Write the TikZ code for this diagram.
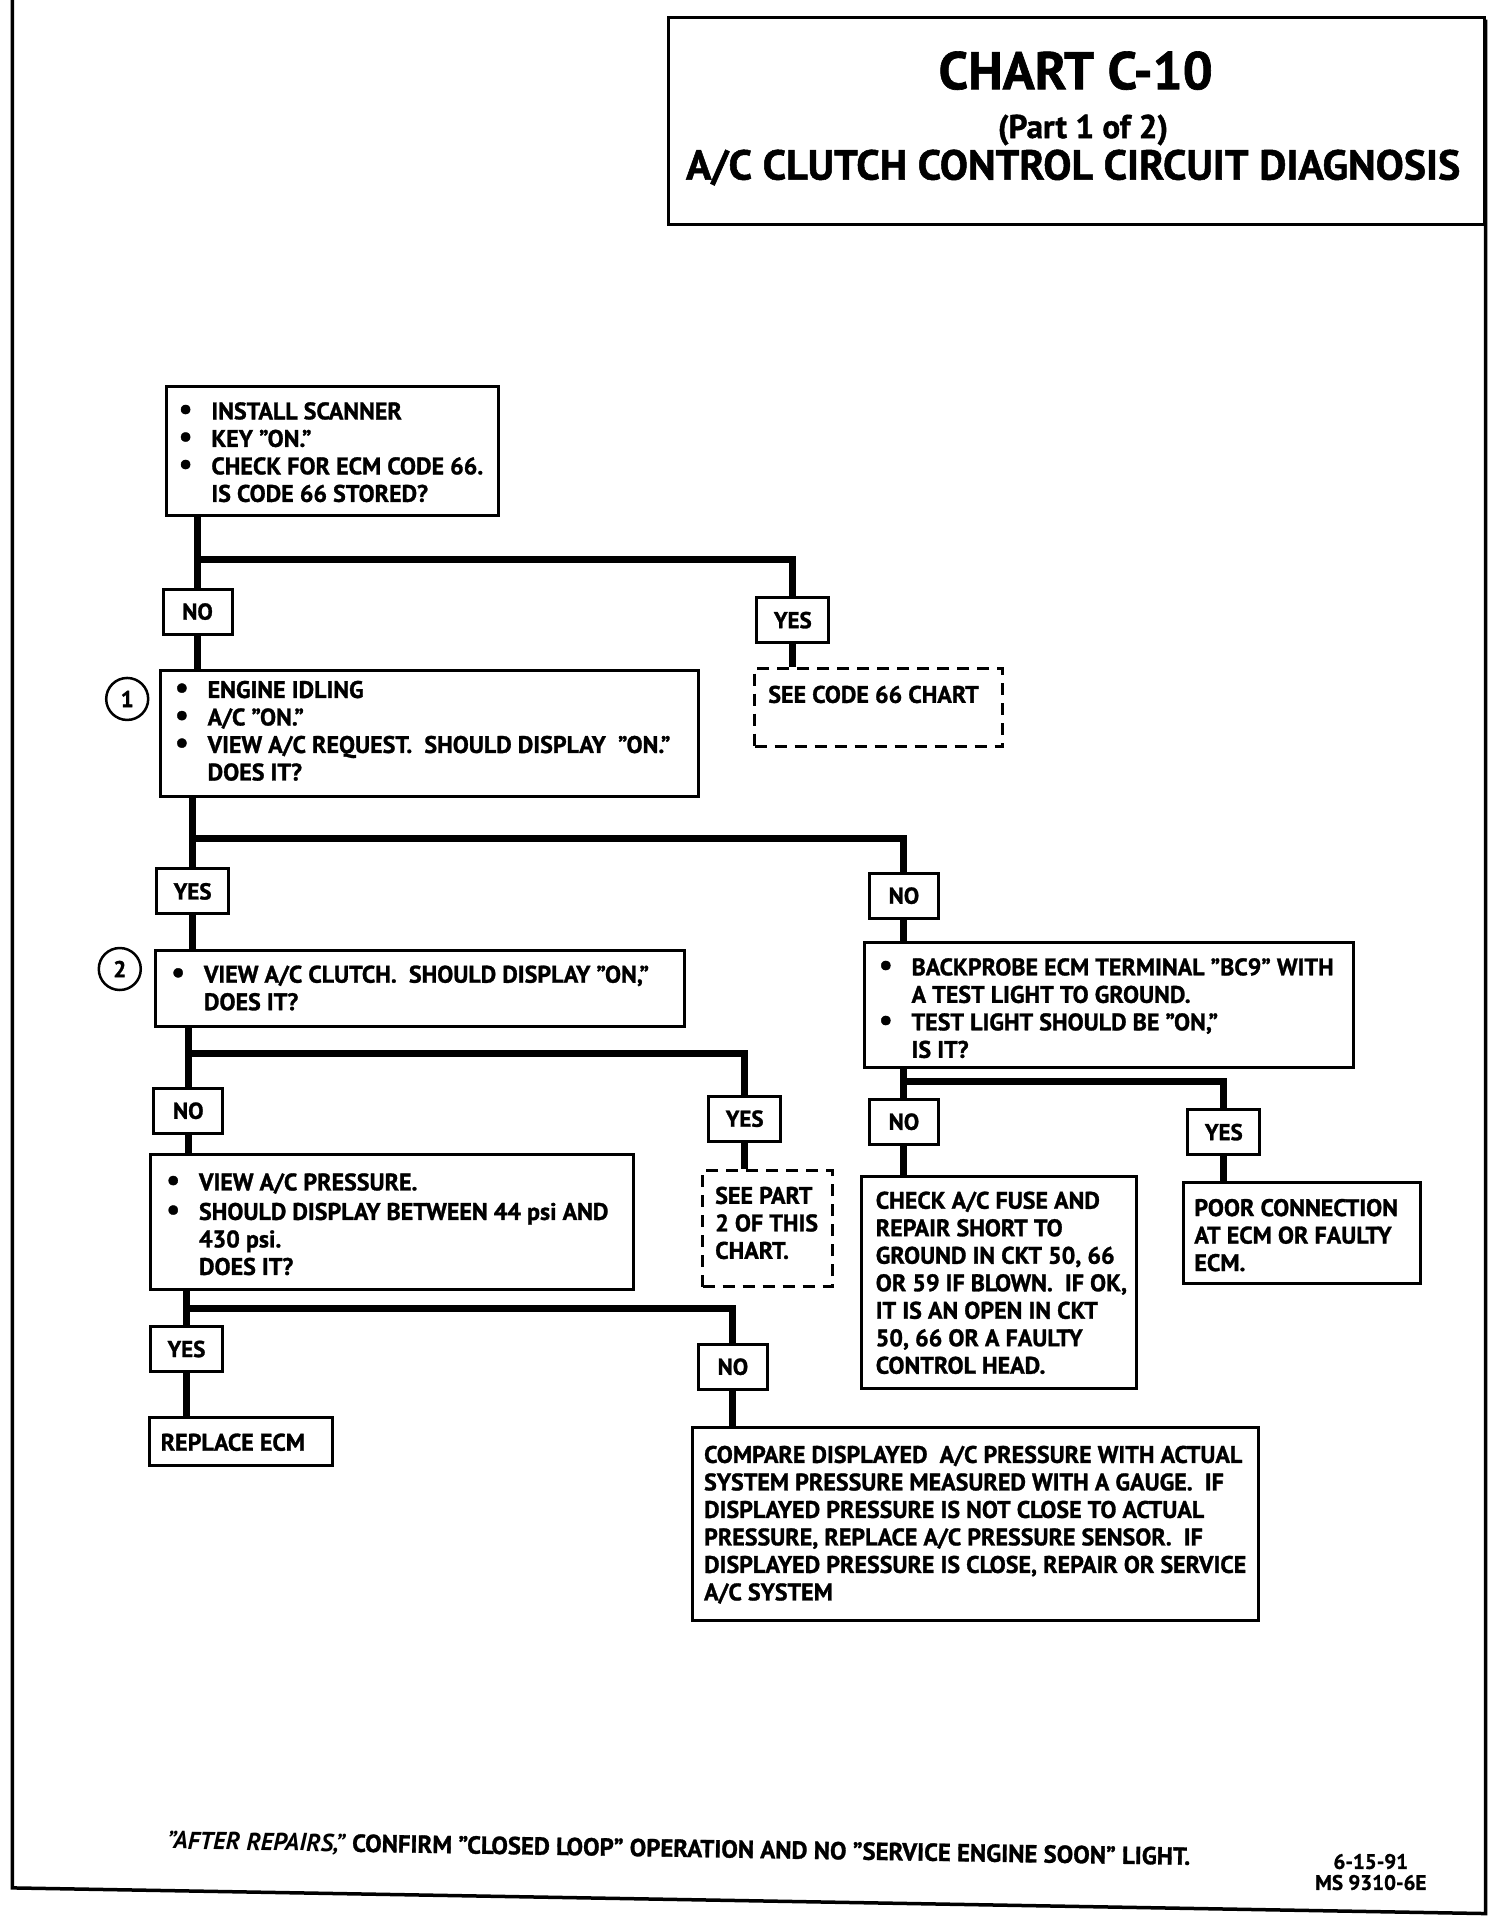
\documentclass[tikz,border=0pt]{standalone}
\usepackage{fontspec}
\setmainfont{PT Sans}[BoldFeatures={FakeBold=1.2}]
\usetikzlibrary{fit}
\newcommand\bl{\llap{\raisebox{0.5pt}{\fontsize{30}{0}\selectfont\textbullet}\hspace{19pt}}}
\newcommand\boxfont{\fontsize{24}{27.5}\selectfont\bfseries}
\newcommand\lblfont{\fontsize{23}{23}\selectfont\bfseries}
\begin{document}
\begin{tikzpicture}[x=1.235pt, y=-1.222pt,
  box/.style={draw, line width=3pt, fill=white, inner sep=0pt},
  dbox/.style={draw, line width=3pt, dash pattern=on 12pt off 8pt, inner sep=0pt},
  lbl/.style={draw, line width=3pt, fill=white, inner sep=0pt, minimum width=69pt, minimum height=45pt, font=\lblfont},
  ylbl/.style={lbl, minimum width=72pt},
  circ/.style={draw, circle, line width=2.5pt, minimum size=42pt, inner sep=0pt, font=\lblfont},
  txt/.style={inner sep=0pt, align=left, anchor=north west, font=\boxfont},
  conn/.style={line width=7pt},
  frame/.style={line width=3.5pt}]
\useasboundingbox (0,0) rectangle (1218,1568);

% frame
\draw[frame] (10,-5) -- (10,1545) -- (1203,1566) -- (1203,16);
% title box
\node[box, fit={(541,14) (1202,184)}] (title) {};
\node[font=\fontsize{53}{53}\selectfont\bfseries, anchor=base, inner sep=0pt] (t1) at (871,73) {CHART C-10};
\node[font=\fontsize{33}{33}\selectfont\bfseries, anchor=base, inner sep=0pt] (t2) at (877,113) {(Part 1 of 2)};
\node[font=\fontsize{42}{42}\selectfont\bfseries, anchor=base, inner sep=0pt] (t3) at (869,147) {A/C CLUTCH CONTROL CIRCUIT DIAGNOSIS};

% boxes
\node[box, fit={(135,316) (404,422)}] (A) {};
\node[txt] (At) at (171,329) {\bl INSTALL SCANNER\\\bl KEY "ON."\\\bl CHECK FOR ECM CODE 66.\\IS CODE 66 STORED?};

\node[box, fit={(130,549) (566,652)}] (B) {};
\node[txt] (Bt) at (168,557) {\bl ENGINE IDLING\\\bl A/C "ON."\\\bl VIEW A/C REQUEST.~ SHOULD DISPLAY~ "ON."\\DOES IT?};

\node[box, fit={(126,778) (554,840)}] (C) {};
\node[txt] (Ct) at (165,790) {\bl VIEW A/C CLUTCH.~ SHOULD DISPLAY "ON,"\\DOES IT?};

\node[box, fit={(700,771) (1096,874)}] (D) {};
\node[txt] (Dt) at (738,784) {\bl BACKPROBE ECM TERMINAL "BC9" WITH\\A TEST LIGHT TO GROUND.\\\bl TEST LIGHT SHOULD BE "ON,"\\IS IT?};

\node[box, fit={(122,945) (513,1055)}] (E) {};
\node[txt] (Et) at (161,960) {\bl VIEW A/C PRESSURE.\\[2pt]\bl SHOULD DISPLAY BETWEEN 44 psi AND\\430 psi.\\DOES IT?};

\node[box, fit={(698,963) (920,1136)}] (F) {};
\node[txt] (Ft) at (709,975) {CHECK A/C FUSE AND\\REPAIR SHORT TO\\GROUND IN CKT 50, 66\\OR 59 IF BLOWN.~ IF OK,\\IT IS AN OPEN IN CKT\\50, 66 OR A FAULTY\\CONTROL HEAD.};

\node[box, fit={(958,968) (1150,1050)}] (G) {};
\node[txt] (Gt) at (967,981) {POOR CONNECTION\\AT ECM OR FAULTY\\ECM.};

\node[box, fit={(121,1160) (269,1199)}] (H) {};
\node[txt] (Ht) at (130,1173) {REPLACE ECM};

\node[box, fit={(561,1168) (1019,1326)}] (I) {};
\node[txt] (It) at (570,1183) {COMPARE DISPLAYED~ A/C PRESSURE WITH ACTUAL\\SYSTEM PRESSURE MEASURED WITH A GAUGE.~ IF\\DISPLAYED PRESSURE IS NOT CLOSE TO ACTUAL\\PRESSURE, REPLACE A/C PRESSURE SENSOR.~ IF\\DISPLAYED PRESSURE IS CLOSE, REPAIR OR SERVICE\\A/C SYSTEM};

\node[dbox, fit={(611,547) (812,611)}] (J) {};
\node[txt] (Jt) at (622,561) {SEE CODE 66 CHART};

\node[dbox, fit={(569,958) (674,1053)}] (K) {};
\node[txt] (Kt) at (579,971) {SEE PART\\2 OF THIS\\CHART.};

% labels
\node[lbl]  (NO1)  at (160,500.5) {NO};
\node[ylbl] (YES1) at (642,507.5) {YES};
\node[ylbl] (YES2) at (156,729.5) {YES};
\node[lbl]  (NO2)  at (732,733) {NO};
\node[lbl]  (NO3)  at (152.5,909) {NO};
\node[ylbl] (YES3) at (603,915.5) {YES};
\node[lbl]  (NO4)  at (732,918) {NO};
\node[ylbl] (YES4) at (991,926.5) {YES};
\node[ylbl] (YES5) at (151,1104) {YES};
\node[lbl]  (NO5)  at (593.5,1118.5) {NO};

% circles
\node[circ] (c1) at (103,572) {1};
\node[circ] (c2) at (97,793) {2};

% connectors
\coordinate (j1) at (160,458);
\coordinate (j2) at (156,686);
\coordinate (j3) at (152.5,862);
\coordinate (j4) at (732,885);
\coordinate (j5) at (151,1071);

\draw[conn] (NO1.north |- A.south) -- (NO1.north);
\draw[conn] (j1) -| (YES1.north);
\draw[conn] (YES1.south) -- (YES1.south |- J.north);
\draw[conn] (NO1.south) -- (NO1.south |- B.north);

\draw[conn] (YES2.north |- B.south) -- (YES2.north);
\draw[conn] (j2) -| (NO2.north);
\draw[conn] (YES2.south) -- (YES2.south |- C.north);
\draw[conn] (NO2.south) -- (NO2.south |- D.north);

\draw[conn] (NO3.north |- C.south) -- (NO3.north);
\draw[conn] (j3) -| (YES3.north);
\draw[conn] (YES3.south) -- (YES3.south |- K.north);
\draw[conn] (NO3.south) -- (NO3.south |- E.north);

\draw[conn] (NO4.north |- D.south) -- (NO4.north);
\draw[conn] (j4) -| (YES4.north);
\draw[conn] (NO4.south) -- (NO4.south |- F.north);
\draw[conn] (YES4.south) -- (YES4.south |- G.north);

\draw[conn] (YES5.north |- E.south) -- (YES5.north);
\draw[conn] (j5) -| (NO5.north);
\draw[conn] (YES5.south) -- (YES5.south |- H.north);
\draw[conn] (NO5.south) -- (NO5.south |- I.north);

% footer
\node[anchor=base west, rotate=-0.9, inner sep=0pt, font=\fontsize{24.7}{24.7}\selectfont\bfseries] (foot) at (135,1513)
  {\textit{"AFTER REPAIRS,"} CONFIRM "CLOSED LOOP" OPERATION AND NO "SERVICE ENGINE SOON" LIGHT.};
\node[align=center, inner sep=0pt, font=\fontsize{21}{21}\selectfont\bfseries] (date) at (1110,1532) {6-15-91\\MS 9310-6E};
\end{tikzpicture}
\end{document}
